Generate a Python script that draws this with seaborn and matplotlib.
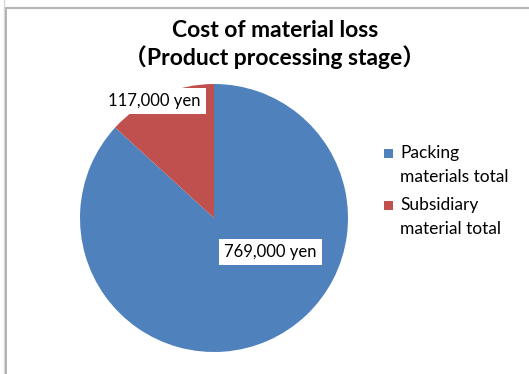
import matplotlib
matplotlib.use("Agg")
import matplotlib.pyplot as plt
import matplotlib.patches as mpatches
from matplotlib.lines import Line2D
import seaborn as sns

# Chart content
categories = ["Packing\nmaterials total", "Subsidiary\nmaterial total"]
values = [769000, 117000]
title_lines = ["Cost of material loss", "\uff08Product processing stage\uff09"]
colors = ["#4F81BD", "#C0504D"]

sns.set_theme(style="white")
plt.rcParams["font.family"] = ["Lato", "Noto Sans CJK JP", "DejaVu Sans"]

W, H = 529, 374
fig = plt.figure(figsize=(W / 100, H / 100), dpi=100)
fig.patch.set_facecolor("white")


def fx(px):
    return px / W


def fy(py):
    return 1 - py / H


# Pie axes: centre (214, 218) px, radius 134 px
cx, cy, r = 214, 218, 134
ax = fig.add_axes([fx(cx - r), fy(cy + r), 2 * r / W, 2 * r / H])
wedges, _ = ax.pie(values, colors=colors, startangle=90, counterclock=False,
                   radius=1.0, wedgeprops=dict(linewidth=0))
ax.set_xlim(-1, 1)
ax.set_ylim(-1, 1)
ax.set_aspect("equal")
ax.axis("off")

# Data labels (white boxes)
label_pos = [(0.42, -0.255), (-0.445, 0.87)]
for v, (lx, ly) in zip(values, label_pos):
    ax.text(lx, ly, f"{v:,} yen", ha="center", va="center", fontsize=12,
            color="black",
            bbox=dict(boxstyle="square,pad=0.3", fc="white", ec="none"))

# Title (two centred lines)
for line, base in zip(title_lines, [37, 65]):
    fig.text(fx(275), fy(base), line, ha="center", va="baseline",
             fontsize=16.5, fontweight="bold", color="black")

# Legend: square key level with the first line of each entry
key_centres = [153, 205]
for lab, col, kc in zip(categories, colors, key_centres):
    fig.patches.append(mpatches.Rectangle((fx(384), fy(kc + 4.5)), 9 / W, 9 / H,
                                          transform=fig.transFigure,
                                          facecolor=col, edgecolor="none"))
    for i, part in enumerate(lab.split("\n")):
        fig.text(fx(400), fy(kc + 5 + 23.5 * i), part, ha="left",
                 va="baseline", fontsize=12.5, color="black")

# Frame lines
fig.add_artist(Line2D([fx(3.5), fx(3.5)], [0, 1], transform=fig.transFigure,
                      color="#d9d9d9", lw=1.0))
fig.add_artist(Line2D([fx(6), fx(6)], [0, fy(8)], transform=fig.transFigure,
                      color="#a6a6a6", lw=1.2))
fig.add_artist(Line2D([fx(6), 1], [fy(8.3), fy(8.3)], transform=fig.transFigure,
                      color="#b5b5b5", lw=1.5))

fig.savefig("out.png", dpi=100, facecolor="white")
